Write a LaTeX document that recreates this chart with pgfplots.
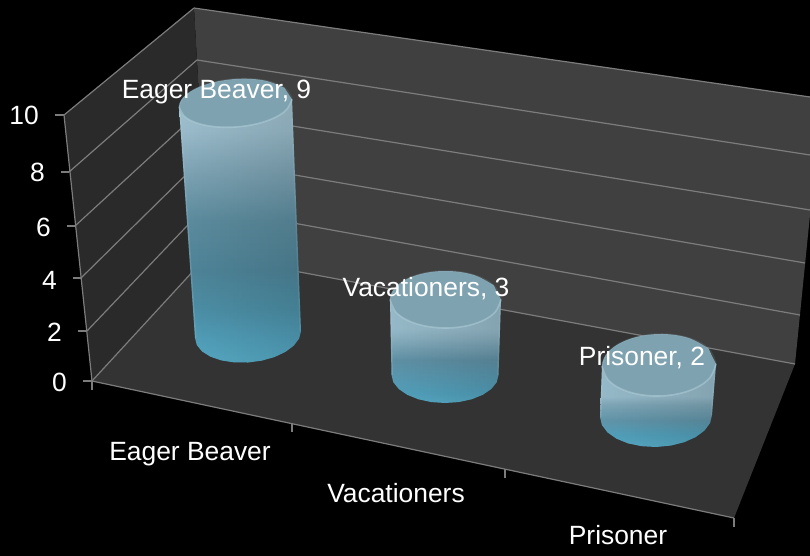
\documentclass[border=0pt]{standalone}
\usepackage{pgfplots}
\pgfplotsset{compat=1.18}
\usepackage{fontspec}
\setmainfont{Liberation Sans}
\usetikzlibrary{fadings}
\definecolor{wallback}{HTML}{404040}
\definecolor{wallleft}{HTML}{2A2A2A}
\definecolor{floorc}{HTML}{333333}
\definecolor{gridc}{HTML}{7C7C7C}
\definecolor{capc}{HTML}{7FA2B0}
\definecolor{rimc}{HTML}{B4D2DE}
\definecolor{gA}{HTML}{5AB0CC}
\definecolor{gB}{HTML}{55A6C2}
\definecolor{gC}{HTML}{5096AE}
\definecolor{gD}{HTML}{528A9F}
\definecolor{gE}{HTML}{6092A5}
\definecolor{gF}{HTML}{84ABBC}
\definecolor{gG}{HTML}{A0C3D3}
\definecolor{gH}{HTML}{A8C8D6}
\definecolor{gI}{HTML}{659BB0}
\definecolor{gJ}{HTML}{82ACBD}
\definecolor{gK}{HTML}{9CC1D1}
\definecolor{gL}{HTML}{6396AB}
\definecolor{gM}{HTML}{90B7C7}
\pgfdeclareverticalshading{cylA}{100bp}{color(0bp)=(gA); color(25bp)=(gA); color(29.25bp)=(gB); color(35bp)=(gC); color(42.5bp)=(gD); color(52bp)=(gE); color(61.5bp)=(gF); color(69bp)=(gG); color(75bp)=(gH); color(100bp)=(gH)}
\pgfdeclareverticalshading{cylB}{100bp}{color(0bp)=(gA); color(25bp)=(gA); color(30bp)=(gB); color(45.8bp)=(gL); color(56.9bp)=(gM); color(61bp)=(gK); color(75bp)=(gK); color(100bp)=(gK)}
\pgfdeclareverticalshading{cylC}{100bp}{color(0bp)=(gA); color(25bp)=(gA); color(32.25bp)=(gB); color(41.25bp)=(gI); color(50.3bp)=(gJ); color(55.6bp)=(gK); color(75bp)=(gK); color(100bp)=(gK)}
\tikzfading[name=cylside, left color=transparent!96, middle color=transparent!100, right color=transparent!85]
\newcommand{\lab}[1]{\fontsize{26.4}{30}\selectfont #1}
\begin{document}
\begin{tikzpicture}
\begin{axis}[
  width=810pt, height=556pt, scale only axis,
  xmin=0, xmax=810, ymin=0, ymax=556, y dir=reverse,
  axis lines=none,
  every axis plot/.append style={line join=round},
]
% background
\addplot[draw=none, fill=black] coordinates {(0,0) (810,0) (810,556) (0,556)} -- cycle;
% walls and floor
\addplot[draw=none, fill=wallback] coordinates {(194,8) (810,97) (810,215) (795,364) (208,255)} -- cycle;
\addplot[draw=none, fill=wallleft] coordinates {(64,115) (194,8) (208,255) (92,381)} -- cycle;
\addplot[draw=none, fill=floorc] coordinates {(92,381) (208,255) (795,364) (734,518)} -- cycle;
% back wall gridlines (10, 8, 6, 4, 2, 0)
\addplot[gridc, line width=1.2pt] coordinates {(194,8) (810,97)};
\addplot[gridc, line width=1.2pt] coordinates {(197,60) (810,155)};
\addplot[gridc, line width=1.2pt] coordinates {(200,111) (810,210)};
\addplot[gridc, line width=1.2pt] coordinates {(202,159) (805,263)};
\addplot[gridc, line width=1.2pt] coordinates {(205,207) (800,315)};
\addplot[gridc, line width=1.2pt] coordinates {(208,255) (795,364)};
% left wall gridlines
\addplot[gridc, line width=1.2pt] coordinates {(64,115) (194,8)};
\addplot[gridc, line width=1.2pt] coordinates {(69,172) (197,60)};
\addplot[gridc, line width=1.2pt] coordinates {(75,226) (200,111)};
\addplot[gridc, line width=1.2pt] coordinates {(81,278) (202,159)};
\addplot[gridc, line width=1.2pt] coordinates {(87,331) (205,207)};
\addplot[gridc, line width=1.2pt] coordinates {(92,381) (208,255)};
% value axis and ticks
\addplot[gridc, line width=1.2pt] coordinates {(64,115) (92,381)};
\addplot[gridc, line width=1.2pt] coordinates {(55,115) (64,115)};
\addplot[gridc, line width=1.2pt] coordinates {(61,172) (69,172)};
\addplot[gridc, line width=1.2pt] coordinates {(67,226) (75,226)};
\addplot[gridc, line width=1.2pt] coordinates {(73,278) (81,278)};
\addplot[gridc, line width=1.2pt] coordinates {(78,331) (87,331)};
\addplot[gridc, line width=1.2pt] coordinates {(83,381) (92,381)};
% category axis and ticks
\addplot[gridc, line width=1.2pt] coordinates {(92,381) (734,518)};
\addplot[gridc, line width=1.2pt] coordinates {(92,381) (92,390)};
\addplot[gridc, line width=1.2pt] coordinates {(292,423) (292,432)};
\addplot[gridc, line width=1.2pt] coordinates {(505,469) (505,478)};
\addplot[gridc, line width=1.2pt] coordinates {(734,518) (734,527)};
% cylinder 1: Eager Beaver = 9
\addplot[draw=none, shading=cylA] coordinates {(179,106.7) (195,337.95) (196.8,345.08) (202.1,351.5) (210.5,356.74) (221.5,360.45) (234.3,362.44) (248,362.5) (261.7,360.66) (274.5,357.05) (285.5,351.86) (293.9,345.5) (299.2,338.42) (301,331.05) (292,99.3)} -- cycle;
\addplot[draw=none, fill=black, path fading=cylside] coordinates {(179,106.7) (195,337.95) (196.8,345.08) (202.1,351.5) (210.5,356.74) (221.5,360.45) (234.3,362.44) (248,362.5) (261.7,360.66) (274.5,357.05) (285.5,351.86) (293.9,345.5) (299.2,338.42) (301,331.05) (292,99.3)} -- cycle;
\addplot[rimc, opacity=0.2, line width=1.5pt] coordinates {(179.7,106.7) (195.7,337.95)};
\addplot[rimc, opacity=0.12, line width=1.5pt] coordinates {(291.3,99.3) (300.3,331.05)};
\addplot[smooth, tension=0.63, draw=none, fill=capc] coordinates {(292,99.3) (284.4,111.8) (263.75,121.95) (235.5,127) (207.25,125.65) (186.6,118.2) (179,106.7) (186.6,94.2) (207.25,84.05) (235.5,79) (263.75,80.35) (284.4,87.8)} -- cycle;
\addplot[smooth, tension=0.63, rimc, opacity=0.12, line width=1.5pt] coordinates {(292,99.3) (284.4,87.8) (263.75,80.35) (235.5,79) (207.25,84.05) (186.6,94.2) (179,106.7)};
\addplot[smooth, tension=0.63, rimc, opacity=0.5, line width=1.6pt] coordinates {(292,99.3) (284.4,111.8) (263.75,121.95) (235.5,127) (207.25,125.65) (186.6,118.2) (179,106.7)};
% cylinder 2: Vacationers = 3
\addplot[draw=none, shading=cylB] coordinates {(390,299.5) (391.5,375) (393.3,382.25) (398.7,389) (407.2,394.8) (418.25,399.25) (431.1,402.05) (445,403) (458.9,402.05) (471.75,399.25) (482.8,394.8) (491.3,389) (496.7,382.25) (498.5,375) (501,299.5)} -- cycle;
\addplot[draw=none, fill=black, path fading=cylside] coordinates {(390,299.5) (391.5,375) (393.3,382.25) (398.7,389) (407.2,394.8) (418.25,399.25) (431.1,402.05) (445,403) (458.9,402.05) (471.75,399.25) (482.8,394.8) (491.3,389) (496.7,382.25) (498.5,375) (501,299.5)} -- cycle;
\addplot[rimc, opacity=0.2, line width=1.5pt] coordinates {(390.7,299.5) (392.2,375)};
\addplot[rimc, opacity=0.12, line width=1.5pt] coordinates {(500.3,299.5) (497.8,375)};
\addplot[smooth, tension=0.63, draw=none, fill=capc] coordinates {(501,299.5) (493.6,313.75) (473.25,324.2) (445.5,328) (417.75,324.2) (397.4,313.75) (390,299.5) (397.4,285.25) (417.75,274.8) (445.5,271) (473.25,274.8) (493.6,285.25)} -- cycle;
\addplot[smooth, tension=0.63, rimc, opacity=0.12, line width=1.5pt] coordinates {(501,299.5) (493.6,285.25) (473.25,274.8) (445.5,271) (417.75,274.8) (397.4,285.25) (390,299.5)};
\addplot[smooth, tension=0.63, rimc, opacity=0.5, line width=1.6pt] coordinates {(501,299.5) (493.6,313.75) (473.25,324.2) (445.5,328) (417.75,324.2) (397.4,313.75) (390,299.5)};
% cylinder 3: Prisoner = 2
\addplot[draw=none, shading=cylC] coordinates {(602,366.1) (600,417.1) (601.9,425.06) (607.5,432.45) (616.4,438.68) (628,443.4) (641.5,446.18) (656,447) (670.5,445.62) (684,442.3) (695.6,437.12) (704.5,430.55) (710.1,422.94) (712,414.9) (716,363.9)} -- cycle;
\addplot[draw=none, fill=black, path fading=cylside] coordinates {(602,366.1) (600,417.1) (601.9,425.06) (607.5,432.45) (616.4,438.68) (628,443.4) (641.5,446.18) (656,447) (670.5,445.62) (684,442.3) (695.6,437.12) (704.5,430.55) (710.1,422.94) (712,414.9) (716,363.9)} -- cycle;
\addplot[rimc, opacity=0.2, line width=1.5pt] coordinates {(602.7,366.1) (600.7,417.1)};
\addplot[rimc, opacity=0.12, line width=1.5pt] coordinates {(715.3,363.9) (711.3,414.9)};
\addplot[smooth, tension=0.63, draw=none, fill=capc] coordinates {(716,363.9) (708.4,379.5) (687.5,391.3) (659,396) (630.5,392.4) (609.6,381.5) (602,366.1) (609.6,350.5) (630.5,338.7) (659,334) (687.5,337.6) (708.4,348.5)} -- cycle;
\addplot[smooth, tension=0.63, rimc, opacity=0.12, line width=1.5pt] coordinates {(716,363.9) (708.4,348.5) (687.5,337.6) (659,334) (630.5,338.7) (609.6,350.5) (602,366.1)};
\addplot[smooth, tension=0.63, rimc, opacity=0.5, line width=1.6pt] coordinates {(716,363.9) (708.4,379.5) (687.5,391.3) (659,396) (630.5,392.4) (609.6,381.5) (602,366.1)};
% tick labels
\node[anchor=base east, inner sep=0, text=white] at (axis cs:39,125) {\lab{10}};
\node[anchor=base east, inner sep=0, text=white] at (axis cs:45,181.7) {\lab{8}};
\node[anchor=base east, inner sep=0, text=white] at (axis cs:51,236) {\lab{6}};
\node[anchor=base east, inner sep=0, text=white] at (axis cs:57,289.3) {\lab{4}};
\node[anchor=base east, inner sep=0, text=white] at (axis cs:62,341) {\lab{2}};
\node[anchor=base east, inner sep=0, text=white] at (axis cs:67,391) {\lab{0}};
\node[anchor=base, inner sep=0, text=white] at (axis cs:190,460) {\lab{Eager Beaver}};
\node[anchor=base, inner sep=0, text=white] at (axis cs:396,502.7) {\lab{Vacationers}};
\node[anchor=base, inner sep=0, text=white] at (axis cs:618,544) {\lab{Prisoner}};
% data labels
\node[anchor=base, inner sep=0, text=white] at (axis cs:216.5,98.5) {\lab{Eager Beaver, 9}};
\node[anchor=base, inner sep=0, text=white] at (axis cs:426,296.7) {\lab{Vacationers, 3}};
\node[anchor=base, inner sep=0, text=white] at (axis cs:642,365) {\lab{Prisoner, 2}};
\end{axis}
\end{tikzpicture}
\end{document}
